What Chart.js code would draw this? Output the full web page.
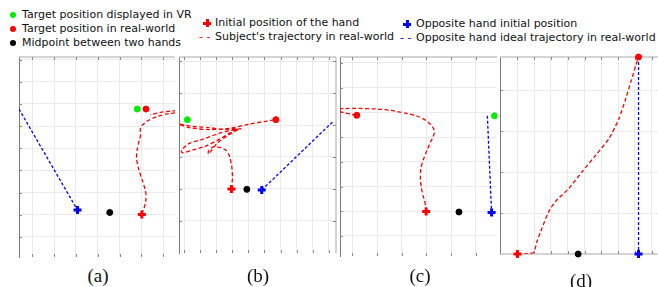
<!DOCTYPE html>
<html>
<head>
<meta charset="utf-8">
<script src="https://cdn.jsdelivr.net/npm/chart.js@4/dist/chart.umd.min.js"></script>
<style>
  html, body { margin: 0; padding: 0; background: #fff; }
  body { width: 658px; height: 287px; position: relative; overflow: hidden; font-family: "DejaVu Sans", sans-serif; }
  canvas { position: absolute; }
  .lg { position: absolute; font-size: 11px; line-height: 13px; color: #111; white-space: nowrap; }
  .dot { position: absolute; width: 6px; height: 6px; border-radius: 50%; }
  .plus { position: absolute; width: 8px; height: 8px; }
  .plus i, .plus b { position: absolute; background: var(--c); }
  .plus i { left: 0; top: 2.5px; width: 8px; height: 3px; }
  .plus b { left: 2.5px; top: 0; width: 3px; height: 8px; }
  .dash { position: absolute; font-size: 11px; line-height: 13px; }
  .cap { position: absolute; font-family: "Liberation Serif", serif; font-size: 19px; line-height: 20px; transform: translateX(-50%); color: #111; }
</style>
</head>
<body>

<!-- legend -->
<span class="dot" style="left:10px;top:12px;background:#00ee00"></span>
<div class="lg" style="left:22px;top:8px">Target position displayed in VR</div>
<span class="dot" style="left:10px;top:26px;background:#ff0000"></span>
<div class="lg" style="left:22px;top:22px">Target position in real-world</div>
<span class="dot" style="left:10px;top:40px;background:#000"></span>
<div class="lg" style="left:22px;top:36px">Midpoint between two hands</div>

<span class="plus" style="left:203px;top:19px;--c:#ff0000"><i></i><b></b></span>
<div class="lg" style="left:215px;top:16px">Initial position of the hand</div>
<span class="dash" style="left:199px;top:30px;color:#ff0000">- -</span>
<div class="lg" style="left:215px;top:30px">Subject's trajectory in real-world</div>

<span class="plus" style="left:403px;top:20px;--c:#0000ff"><i></i><b></b></span>
<div class="lg" style="left:416px;top:17px">Opposite hand initial position</div>
<span class="dash" style="left:400px;top:31px;color:#0000ff">- -</span>
<div class="lg" style="left:416px;top:31px">Opposite hand ideal trajectory in real-world</div>

<canvas id="chartA"></canvas>
<canvas id="chartB"></canvas>
<canvas id="chartC"></canvas>
<canvas id="chartD"></canvas>

<div class="cap" style="left:98px;top:266px">(a)</div>
<div class="cap" style="left:258px;top:266px">(b)</div>
<div class="cap" style="left:420px;top:266px">(c)</div>
<div class="cap" style="left:581px;top:271px">(d)</div>

<script>
// ---- panel (a) ----
const aTarget = [[5.81, 6.77]];
const aReal = [[6.21, 6.77]];
const aMid = [[4.55, 2.10]];
const aHand = [[6.02, 2.01]];
const aOpp = [[3.07, 2.21]];
const aTraj = [[6.01, 2.03], [6.16, 2.43], [6.21, 2.89], [6.11, 3.34], [5.96, 3.79], [5.81, 4.33], [5.78, 4.70],
  [5.85, 5.15], [5.96, 5.60], [5.96, 5.92], [6.16, 6.15], [6.47, 6.33], [7.0, 6.51], [7.54, 6.60], [7.77, 6.64],
  [7.68, 6.69], [7.08, 6.65], [6.62, 6.56], [6.40, 6.52]];
const aIdeal = [[0.39, 6.77], [3.07, 2.21]];

// ---- panel (b) ----
const bTarget = [[0.19, 4.17]];
const bReal = [[5.71, 4.17]];
const bMid = [[3.90, 1.98]];
const bHand = [[2.94, 1.99]];
const bOpp = [[4.83, 1.96]];
const bTraj = [[2.94, 1.99], [3.00, 2.33], [2.96, 2.69], [2.79, 3.06], [2.54, 3.23], [2.17, 3.30], [1.85, 3.32],
  [1.54, 3.21], [1.50, 3.09], [1.71, 3.21], [2.06, 3.44], [2.58, 3.63], [3.21, 3.82], [3.52, 3.89], [3.00, 3.84],
  [2.17, 3.74], [1.12, 3.55], [0.29, 3.42], [-0.17, 3.21], [-0.13, 3.13], [0.50, 3.21], [1.33, 3.34], [2.17, 3.55],
  [2.79, 3.74], [3.31, 3.89], [2.58, 3.86], [1.54, 3.92], [0.50, 3.96], [-0.33, 4.03], [0.29, 3.92], [1.54, 3.86],
  [2.79, 3.90], [4.04, 4.03], [5.08, 4.12], [5.71, 4.17]];
const bIdeal = [[4.83, 1.96], [9.29, 4.12]];

// ---- panel (c) ----
const cTarget = [[6.76, 5.86]];
const cReal = [[1.18, 5.88]];
const cMid = [[5.32, 1.97]];
const cHand = [[3.99, 1.99]];
const cOpp = [[6.64, 1.95]];
const cTraj = [[3.99, 1.99], [3.95, 2.32], [3.84, 2.73], [3.77, 3.14], [3.76, 3.54], [3.81, 3.88], [3.95, 4.28],
  [4.15, 4.76], [4.32, 5.16], [4.28, 5.36], [4.08, 5.59], [3.81, 5.77], [3.41, 5.91], [3.0, 6.0], [2.32, 6.11],
  [1.65, 6.15], [0.97, 6.16], [0.5, 6.14], [0.30, 6.11], [0.5, 6.03], [0.84, 5.95], [1.18, 5.88]];
const cIdeal = [[6.47, 5.86], [6.64, 1.95]];

// ---- panel (d) ----
const dReal = [[8.22, 4.81]];
const dMid = [[4.62, 0]];
const dHand = [[1.0, 0]];
const dOpp = [[8.22, 0]];
const dTraj = [[1.0, 0], [1.46, 0.0], [1.96, 0.04], [2.16, 0.30], [2.46, 0.63], [2.86, 1.03], [3.26, 1.28],
  [4.06, 1.60], [4.86, 2.01], [5.66, 2.41], [6.46, 2.82], [7.06, 3.31], [7.46, 3.80], [7.76, 4.20], [8.06, 4.61],
  [8.22, 4.81]];
const dIdeal = [[8.22, 4.81], [8.22, 0]];

const RED = '#ff0000', GREEN = '#00ee00', BLUE = '#0000ff', BLACK = '#000000';
const PAD = 8;

const toXY = arr => arr.map(p => ({ x: p[0], y: p[1] }));

// box round the plot + inward tick marks, like the original figure
const framePlugin = {
  id: 'frame',
  beforeDatasetsDraw(chart, args, opts) {
    const { ctx, chartArea: a, scales } = chart;
    const sides = opts.sides || 'tbr';
    ctx.save();
    ctx.strokeStyle = '#c6c6c6';
    ctx.lineWidth = 1.5;
    ctx.beginPath();
    if (sides.includes('t')) { ctx.moveTo(a.left, a.top); ctx.lineTo(a.right, a.top); }
    if (sides.includes('b')) { ctx.moveTo(a.left, a.bottom); ctx.lineTo(a.right, a.bottom); }
    if (sides.includes('r')) { ctx.moveTo(a.right, a.top); ctx.lineTo(a.right, a.bottom); }
    ctx.stroke();
    ctx.strokeStyle = '#8a8a8a';
    ctx.lineWidth = 1;
    ctx.beginPath();
    scales.x.ticks.forEach(t => {
      const px = Math.round(scales.x.getPixelForValue(t.value)) + 0.5;
      ctx.moveTo(px, a.bottom); ctx.lineTo(px, a.bottom - 3);
      ctx.moveTo(px, a.top); ctx.lineTo(px, a.top + 3);
    });
    scales.y.ticks.forEach(t => {
      const py = Math.round(scales.y.getPixelForValue(t.value)) + 0.5;
      ctx.moveTo(a.left, py); ctx.lineTo(a.left + 3, py);
      if (sides.includes('r')) { ctx.moveTo(a.right, py); ctx.lineTo(a.right - 3, py); }
    });
    ctx.stroke();
    ctx.restore();
  }
};

function intTicks(scale) {
  const ticks = [];
  for (let v = Math.ceil(scale.min + 0.05); v < scale.max - 0.05; v++) ticks.push({ value: v });
  scale.ticks = ticks;
}

function pointSet(data, color, style, clip) {
  return {
    data: toXY(data),
    backgroundColor: color,
    borderColor: color,
    pointStyle: style,
    pointRadius: style === 'cross' ? 4 : 3,
    borderWidth: style === 'cross' ? 3 : 1,
    clip: clip
  };
}

function lineSet(data, color, dash, tension) {
  return {
    data: toXY(data),
    showLine: true,
    borderColor: color,
    borderWidth: 1.3,
    borderDash: dash,
    pointRadius: 0,
    tension: tension
  };
}

function makePanel(id, area, xr, yr, sides, datasets) {
  const cv = document.getElementById(id);
  const w = area[2] - area[0], h = area[3] - area[1];
  cv.width = w + 2 * PAD;
  cv.height = h + 2 * PAD;
  cv.style.left = (area[0] - PAD) + 'px';
  cv.style.top = (area[1] - PAD) + 'px';
  return new Chart(cv.getContext('2d'), {
    type: 'scatter',
    data: { datasets: datasets },
    options: {
      responsive: false,
      animation: false,
      layout: { padding: PAD },
      plugins: { legend: { display: false }, tooltip: { enabled: false }, frame: { sides: sides } },
      scales: {
        x: {
          min: xr[0], max: xr[1],
          afterBuildTicks: intTicks,
          ticks: { display: false },
          grid: { color: '#ebebeb', drawTicks: false },
          border: { display: false }
        },
        y: {
          min: yr[0], max: yr[1],
          afterBuildTicks: intTicks,
          ticks: { display: false },
          grid: { color: '#ebebeb', drawTicks: false },
          border: { display: true, color: '#7a7a7a' }
        }
      }
    },
    plugins: [framePlugin]
  });
}

const trajDash = [4, 2.5];
const idealDash = [3, 2];

makePanel('chartA', [19, 57, 175, 257], [0.39, 7.54], [0.09, 9.12], 't', [
  pointSet(aTarget, GREEN, 'circle'),
  pointSet(aReal, RED, 'circle'),
  pointSet(aMid, BLACK, 'circle'),
  pointSet(aHand, RED, 'cross'),
  pointSet(aOpp, BLUE, 'cross'),
  lineSet(aTraj, RED, trajDash, 0.4),
  lineSet(aIdeal, BLUE, idealDash, 0)
]);

makePanel('chartB', [179, 57, 336, 253], [-0.33, 9.46], [-0.02, 6.14], 'tr', [
  pointSet(bTarget, GREEN, 'circle'),
  pointSet(bReal, RED, 'circle'),
  pointSet(bMid, BLACK, 'circle'),
  pointSet(bHand, RED, 'cross'),
  pointSet(bOpp, BLUE, 'cross'),
  lineSet(bTraj, RED, trajDash, 0.3),
  lineSet(bIdeal, BLUE, idealDash, 0)
]);

makePanel('chartC', [340, 57, 497, 256], [0.5, 6.86], [0.19, 8.24], 't', [
  pointSet(cTarget, GREEN, 'circle'),
  pointSet(cReal, RED, 'circle'),
  pointSet(cMid, BLACK, 'circle'),
  pointSet(cHand, RED, 'cross'),
  pointSet(cOpp, BLUE, 'cross'),
  lineSet(cTraj, RED, trajDash, 0.4),
  lineSet(cIdeal, BLUE, idealDash, 0)
]);

makePanel('chartD', [500, 57, 660, 254], [-0.04, 9.5], [0, 4.81], 'tb', [
  pointSet(dReal, RED, 'circle', false),
  pointSet(dMid, BLACK, 'circle', false),
  pointSet(dHand, RED, 'cross', false),
  pointSet(dOpp, BLUE, 'cross', false),
  lineSet(dTraj, RED, trajDash, 0.2),
  lineSet(dIdeal, BLUE, idealDash, 0)
]);
</script>
</body>
</html>
